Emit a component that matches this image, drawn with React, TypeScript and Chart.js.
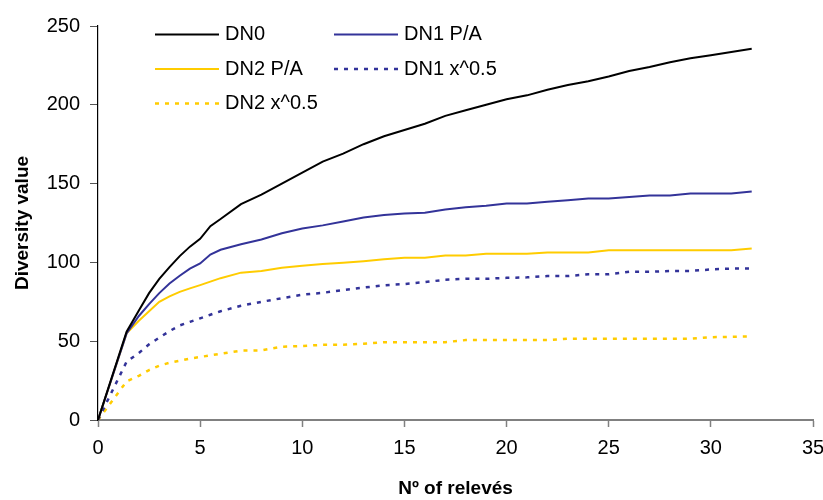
import React, { useEffect, useRef } from "react";
import { Chart, registerables } from "chart.js";

Chart.register(...registerables);

// Nº of relevés (x values)
const RELEVES = [0, 1.4, 2, 2.5, 3, 3.5, 4, 4.5, 5, 5.5, 6, 7, 8, 9, 10, 11, 12, 13, 14, 15, 16, 17, 18, 19, 20, 21, 22, 23, 24, 25, 26, 27, 28, 29, 30, 31, 32];

const DN0 = [0, 56, 69.5, 80.5, 89.5, 97, 104, 110, 115, 123, 127.5, 137, 143, 150, 157, 164, 169, 175, 180, 184, 188, 193, 196.5, 200, 203.5, 206, 209.5, 212.5, 215, 218, 221.5, 224, 227, 229.5, 231.5, 233.5, 235.5];
const DN1_PA = [0, 55, 66, 73.5, 80.5, 86.6, 91.5, 96, 99.3, 105, 108, 111.5, 114.5, 118.5, 121.5, 123.5, 126, 128.5, 130, 131, 131.5, 133.5, 135, 136, 137.3, 137.3, 138.5, 139.5, 140.5, 140.5, 141.5, 142.5, 142.5, 143.7, 143.7, 143.7, 145];
const DN2_PA = [0, 55, 63, 69, 75, 78.5, 81.3, 83.5, 85.6, 87.8, 90, 93.5, 94.5, 96.6, 97.8, 99, 99.8, 100.8, 102, 103, 103, 104.4, 104.4, 105.5, 105.5, 105.5, 106.3, 106.3, 106.3, 107.7, 107.7, 107.7, 107.7, 107.7, 107.7, 107.7, 108.8];
const DN1_SQRT = [0, 37, 42.5, 48, 52.3, 56.4, 60, 62.3, 64.5, 66.8, 69, 72.5, 75, 77.3, 79.5, 80.7, 82.4, 84, 85.5, 86.3, 87.5, 89, 89.6, 89.6, 90.2, 90.5, 91.3, 91.3, 92.5, 92.5, 94, 94, 94.6, 94.6, 95.5, 96.1, 96.1];
const DN2_SQRT = [0, 24.5, 28, 31.7, 34.5, 36.3, 37.6, 39, 40, 41, 42, 44, 44.2, 46.5, 47, 47.7, 47.7, 48.4, 49.4, 49.4, 49.4, 49.4, 50.7, 50.7, 50.7, 50.7, 50.7, 51.6, 51.6, 51.6, 51.6, 51.6, 51.6, 51.6, 52.5, 52.8, 53];

const SERIES_LABELS = ["DN0", "DN1 P/A", "DN2 P/A", "DN1 x^0.5", "DN2 x^0.5"];
const X_TITLE = "Nº of relevés";
const Y_TITLE = "Diversity value";

const FONT = "'Liberation Sans', Arial, Helvetica, sans-serif";
const NAVY = "#333399";
const GOLD = "#FFCC00";

const toPoints = (ys: number[]) => RELEVES.map((x, i) => ({ x, y: ys[i] }));

const insideLegend = {
  id: "insideLegend",
  afterDraw(chart: any) {
    const { ctx, chartArea } = chart;
    ctx.save();
    chart.data.datasets.forEach((ds: any, i: number) => {
      const col = i % 2;
      const row = Math.floor(i / 2);
      const x0 = chartArea.left + 57 + col * 179;
      const y = chartArea.top + 8.5 + row * 34.5;
      ctx.beginPath();
      ctx.strokeStyle = ds.borderColor;
      ctx.lineWidth = ds.borderWidth;
      ctx.setLineDash(ds.borderDash || []);
      ctx.moveTo(x0, y);
      ctx.lineTo(x0 + 64, y);
      ctx.stroke();
      ctx.setLineDash([]);
      ctx.fillStyle = "#000";
      ctx.font = `20px ${FONT}`;
      ctx.textBaseline = "middle";
      ctx.textAlign = "left";
      ctx.fillText(ds.label, x0 + 70, y);
    });
    ctx.restore();
  },
};

export default function App() {
  const ref = useRef<HTMLCanvasElement>(null);

  useEffect(() => {
    if (!ref.current) return;
    const mk = (label: string, data: number[], color: string, width: number, dash?: number[]) => ({
      label,
      data: toPoints(data),
      borderColor: color,
      backgroundColor: color,
      borderWidth: width,
      borderDash: dash,
      showLine: true,
      pointRadius: 0,
      tension: 0,
      fill: false,
    });
    const chart = new Chart(ref.current, {
      type: "scatter",
      data: {
        datasets: [
          mk(SERIES_LABELS[0], DN0, "#000000", 2),
          mk(SERIES_LABELS[1], DN1_PA, NAVY, 2),
          mk(SERIES_LABELS[2], DN2_PA, GOLD, 2),
          mk(SERIES_LABELS[3], DN1_SQRT, NAVY, 2.5, [4, 6]),
          mk(SERIES_LABELS[4], DN2_SQRT, GOLD, 2.5, [4, 6]),
        ] as any,
      },
      options: {
        animation: false,
        responsive: false,
        devicePixelRatio: 1,
        layout: { padding: { top: 26, right: 10, left: 0, bottom: 0 } },
        plugins: { legend: { display: false }, tooltip: { enabled: false } },
        scales: {
          x: {
            type: "linear",
            min: 0,
            max: 35,
            ticks: { stepSize: 5, color: "#000", font: { family: FONT, size: 20 }, padding: 9, maxRotation: 0 },
            grid: { drawOnChartArea: false, drawTicks: true, tickLength: 7, color: "#808080", tickWidth: 1.5 },
            border: { color: "#808080", width: 2 },
            title: { display: true, text: X_TITLE, color: "#000", font: { family: FONT, size: 19, weight: "bold" }, padding: { top: 0, bottom: 0 } },
            afterFit: (s: any) => {
              s.height = 80;
              s.paddingLeft = 0;
              s.paddingRight = 0;
            },
          },
          y: {
            type: "linear",
            min: 0,
            max: 250,
            ticks: { stepSize: 50, color: "#000", font: { family: FONT, size: 20 }, padding: 10 },
            grid: { drawOnChartArea: false, drawTicks: true, tickLength: 8, color: "#555", tickWidth: 1 },
            border: { color: "#000", width: 1.2 },
            title: { display: true, text: Y_TITLE, color: "#000", font: { family: FONT, size: 19, weight: "bold" }, padding: { top: 11, bottom: 0 } },
            afterFit: (s: any) => {
              s.width = 98;
              s.paddingTop = 0;
              s.paddingBottom = 0;
            },
          },
        },
      } as any,
      plugins: [insideLegend],
    });
    return () => chart.destroy();
  }, []);

  return (
    <div style={{ position: "absolute", left: 0, top: 0, width: 823, height: 500, background: "#fff" }}>
      <canvas ref={ref} width={823} height={500} style={{ display: "block" }} />
    </div>
  );
}
